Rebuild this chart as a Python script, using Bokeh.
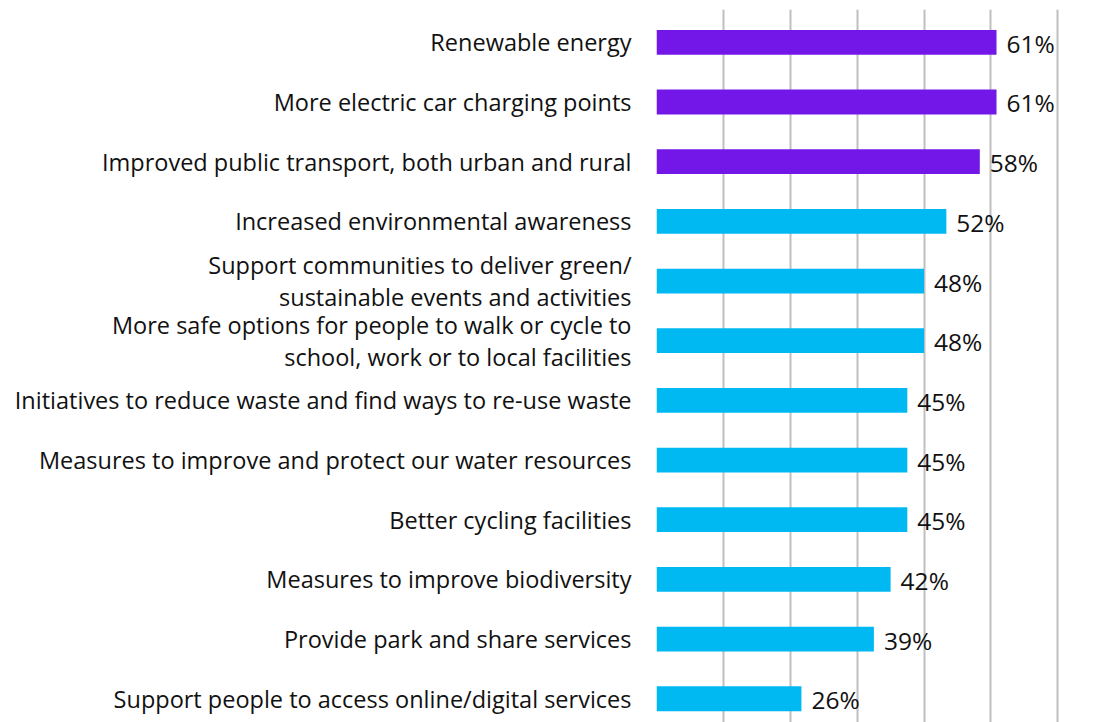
from bokeh.plotting import figure
from bokeh.models import Range1d, FixedTicker, ColumnDataSource
from bokeh.embed import file_html
from bokeh.resources import INLINE
from bokeh.core.properties import value

categories = [
    "Renewable energy",
    "More electric car charging points",
    "Improved public transport, both urban and rural",
    "Increased environmental awareness",
    "Support communities to deliver green/\nsustainable events and activities",
    "More safe options for people to walk or cycle to\nschool, work or to local facilities",
    "Initiatives to reduce waste and find ways to re-use waste",
    "Measures to improve and protect our water resources",
    "Better cycling facilities",
    "Measures to improve biodiversity",
    "Provide park and share services",
    "Support people to access online/digital services",
]
values = [61, 61, 58, 52, 48, 48, 45, 45, 45, 42, 39, 26]
top_n_highlighted = 3
grid_ticks = [0, 12, 24, 36, 48, 60, 72]

PURPLE = "#7317E8"
BLUE = "#00B8F2"

n = len(categories)
ys = list(range(n))
colors = [PURPLE if i < top_n_highlighted else BLUE for i in range(n)]
labels = [f"{v}%" for v in values]

src = ColumnDataSource(dict(y=ys, v=values, c=colors, lab=labels))

px_per_unit = 5.574
frame_w = 454
p = figure(
    frame_width=frame_w, frame_height=713,
    x_range=Range1d(0, frame_w / px_per_unit),
    y_range=Range1d(start=n - 1 + 0.398, end=-0.55),
    output_backend="svg", toolbar_location=None,
    min_border_left=656, min_border_right=0, min_border_top=9, min_border_bottom=0,
)
p.outline_line_color = None
p.background_fill_color = "white"
p.border_fill_color = "white"

p.xgrid.ticker = FixedTicker(ticks=grid_ticks)
p.xgrid.grid_line_color = "#BFBFBF"
p.xgrid.grid_line_width = 2
p.ygrid.grid_line_color = None
p.xaxis.visible = False

p.hbar(y="y", left=0, right="v", height=0.415, color="c", line_color=None, source=src)

p.text(x="v", y="y", text="lab", source=src, x_offset=10, y_offset=1,
       text_align="left", text_baseline="middle",
       text_font=value("Open Sans"), text_font_size="24.5px", text_color="#111111")

ax = p.yaxis[0]
ax.ticker = FixedTicker(ticks=ys)
ax.major_label_overrides = {i: c for i, c in zip(ys, categories)}
ax.axis_line_color = None
ax.major_tick_line_color = None
ax.minor_tick_line_color = None
ax.major_label_standoff = 19
ax.major_label_text_font = "Open Sans"
ax.major_label_text_font_size = "23.5px"
ax.major_label_text_color = "#111111"
ax.major_label_text_line_height = 1.0

open("out.html", "w").write(file_html(p, INLINE))
